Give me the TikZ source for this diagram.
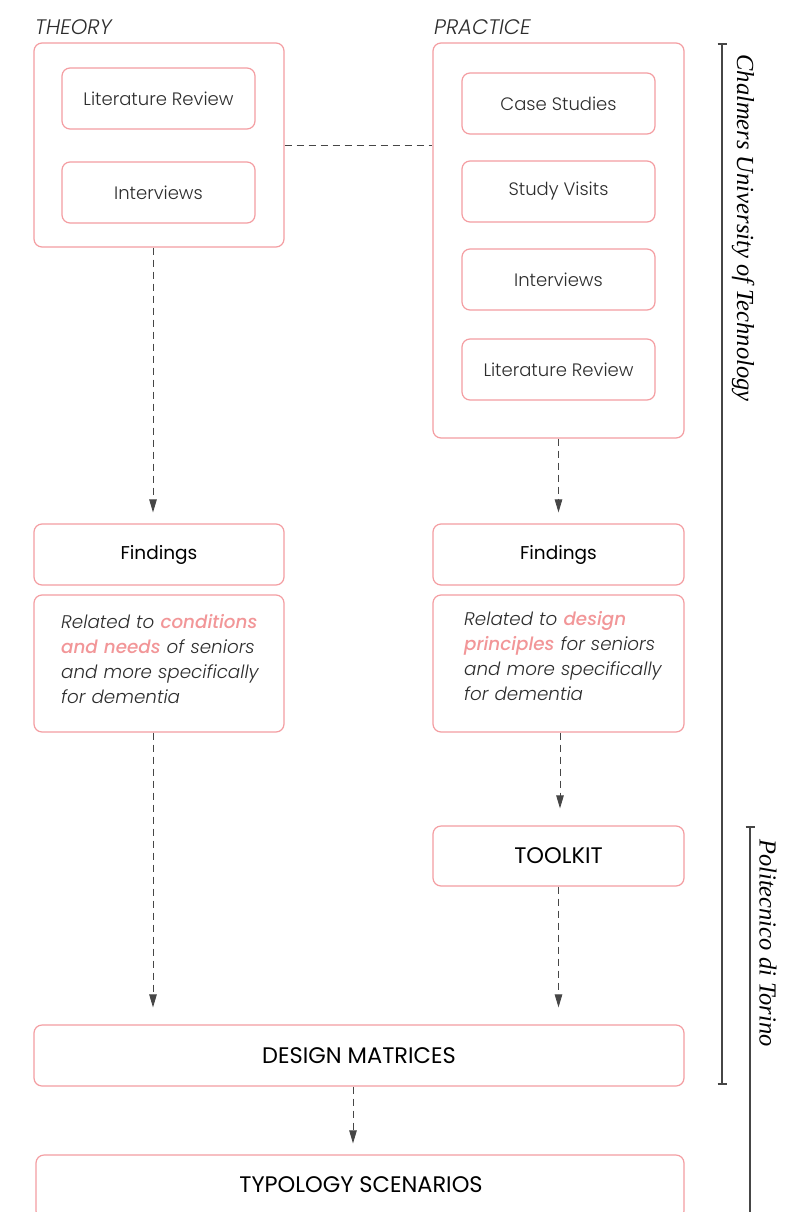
\documentclass[tikz,border=0pt]{standalone}
\usepackage{fontspec}
\setmainfont{Poppins}[UprightFont=* Light, ItalicFont=* Light Italic, BoldFont=* Medium, BoldItalicFont=* Medium Italic]
\newfontfamily\regfont{Poppins}
\newfontfamily\serifit{Liberation Serif}
\usetikzlibrary{arrows.meta,calc}
\definecolor{boxpink}{RGB}{244,158,162}
\definecolor{hl}{RGB}{242,150,152}
\definecolor{txt}{RGB}{45,45,45}
\definecolor{arr}{RGB}{70,70,70}
\tikzset{
  rbox/.style={draw=boxpink, line width=1.2pt, rounded corners=8pt, inner sep=0pt, text=txt, font=\fontsize{18}{21}\selectfont},
  dashline/.style={draw=arr, line width=0.9pt, dash pattern=on 7pt off 5pt},
  flow/.style={dashline, -{Triangle[length=13pt,width=7.5pt]}, shorten >=11pt},
  farflow/.style={flow, shorten >=17pt},
  head/.style={font=\itshape\fontsize{21}{24}\selectfont, text=txt, anchor=west, inner sep=0pt},
  blk/.style={text=black, font=\regfont\fontsize{18.5}{22}\selectfont},
  caps/.style={text=black, font=\regfont\fontsize{22.5}{26}\selectfont},
  rel/.style={align=left, font=\itshape\fontsize{18.3}{25}\selectfont, text width=230pt, inner sep=0pt},
  uni/.style={rotate=-90, font=\serifit\itshape\fontsize{24.5}{28}\selectfont, text=black, inner sep=0pt},
  bracket/.style={draw=arr, line width=1.2pt},
}
\newcommand{\hlt}[1]{{\color{hl}\bfseries #1}}
\begin{document}
\begin{tikzpicture}[x=1pt,y=-1pt]
\clip (0,0) rectangle (811,1212);
\fill[white] (0,0) rectangle (811,1212);

% headings
\node[head] (thhead) at (35,27) {THEORY};
\node[head] (prhead) at (434,27) {PRACTICE};

% theory
\node[rbox, minimum width=250pt, minimum height=204pt] (theory) at (159,145) {};
\node[rbox, minimum width=193pt, minimum height=61pt] (litL) at (158.5,98.5) {Literature Review};
\node[rbox, minimum width=193pt, minimum height=61pt] (intL) at (158.5,192.5) {Interviews};

% practice
\node[rbox, minimum width=251pt, minimum height=395pt] (practice) at (558.5,240.5) {};
\node[rbox, minimum width=193pt, minimum height=61pt] (case) at (558.5,103.5) {Case Studies};
\node[rbox, minimum width=193pt, minimum height=61pt] (visits) at (558.5,191.5) {Study Visits};
\node[rbox, minimum width=193pt, minimum height=61pt] (intR) at (558.5,279.5) {Interviews};
\node[rbox, minimum width=193pt, minimum height=61pt] (litR) at (558.5,369.5) {Literature Review};

% findings
\node[rbox, blk, minimum width=250pt, minimum height=61pt] (findL) at (159,554.5) {Findings};
\node[rbox, minimum width=250pt, minimum height=137pt] (relL) at (159,663.5) {};
\node[rel, text=txt, anchor=north west] (relLt) at (61,614) {Related to \hlt{conditions}\\\hlt{and needs} of seniors\\and more specifically\\for dementia};
\node[rbox, blk, minimum width=251pt, minimum height=61pt] (findR) at (558.5,554.5) {Findings};
\node[rbox, minimum width=251pt, minimum height=137pt] (relR) at (558.5,663.5) {};
\node[rel, text=txt, anchor=north west] (relRt) at (464,611) {Related to \hlt{design}\\\hlt{principles} for seniors\\and more specifically\\for dementia};

% lower
\node[rbox, caps, minimum width=251pt, minimum height=60pt] (toolkit) at (558.5,856) {TOOLKIT};
\node[rbox, caps, minimum width=650pt, minimum height=61pt] (matrices) at (359,1055.5) {DESIGN MATRICES};
\node[rbox, minimum width=648pt, minimum height=64pt] (typology) at (360,1187) {};
\node[caps] (typot) at (361,1185) {TYPOLOGY SCENARIOS};

% connectors
\draw[dashline] (theory.east) -- (practice.west |- theory.east);
\draw[flow] ($(theory.south)+(-6,0)$) -- ($(findL.north)+(-6,0)$);
\draw[flow] (practice.south) -- (findR.north);
\draw[farflow] ($(relL.south)+(-6,0)$) -- ($(matrices.north -| relL.south)+(-6,0)$);
\draw[farflow] ($(relR.south)+(1.5,0)$) -- ($(toolkit.north)+(1.5,0)$);
\draw[farflow] (toolkit.south) -- (toolkit.south |- matrices.north);
\draw[flow] ($(matrices.south)+(-6,0)$) -- ($(typology.north -| matrices.south)+(-6,0)$);

% brackets
\coordinate (c1) at (722,44);
\coordinate (c2) at (722,1084);
\draw[bracket] (c1) -- (c2);
\draw[bracket] ($(c1)+(-4.5,0)$) -- ($(c1)+(4.5,0)$);
\draw[bracket] ($(c2)+(-4.5,0)$) -- ($(c2)+(4.5,0)$);
\node[uni] (chalmers) at (743,228) {Chalmers University of Technology};

\coordinate (p1) at (750,827);
\coordinate (p2) at (750,1220);
\draw[bracket] (p1) -- (p2);
\draw[bracket] ($(p1)+(-4.5,0)$) -- ($(p1)+(4.5,0)$);
\node[uni] (polito) at (768,943) {Politecnico di Torino};
\end{tikzpicture}
\end{document}
